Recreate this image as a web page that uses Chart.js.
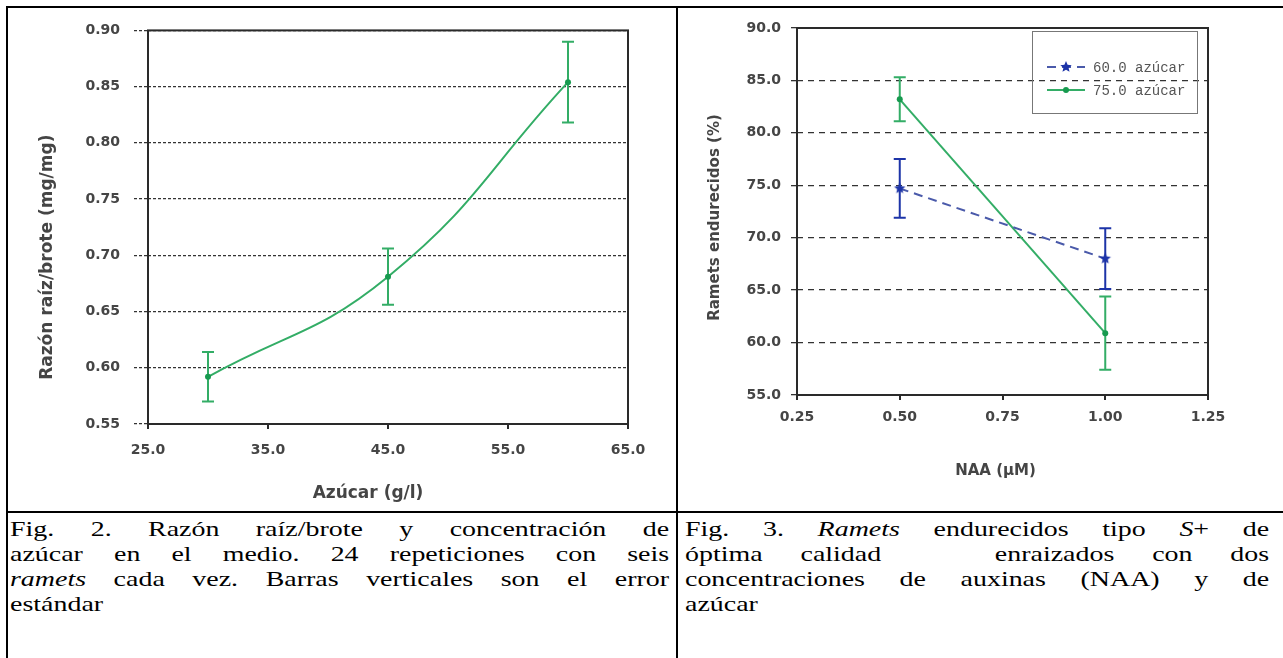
<!DOCTYPE html>
<html>
<head>
<meta charset="utf-8">
<script src="https://cdn.jsdelivr.net/npm/chart.js@4.4.0/dist/chart.umd.min.js"></script>
<style>
  body { margin: 0; background: #fff; width: 1283px; height: 658px; overflow: hidden; position: relative; }
  .rule { position: absolute; background: #000; }
  .wrap { position: absolute; top: 8px; height: 503px; }
  .cap { position: absolute; top: 516px; font-family: "Liberation Serif", "Times New Roman", serif; font-size: 22px; line-height: 25px; color: #000; transform: scaleX(1.27); transform-origin: 0 0; }
  .cap div { text-align: justify; text-align-last: justify; white-space: nowrap; }
  .cap div.last { text-align-last: left; }
</style>
</head>
<body>
<div class="rule" style="left:7px; top:6px; width:1276px; height:2px"></div>
<div class="rule" style="left:6px; top:6px; width:2px; height:652px"></div>
<div class="rule" style="left:676px; top:6px; width:2px; height:652px"></div>
<div class="rule" style="left:7px; top:511px; width:1276px; height:2px"></div>

<div class="wrap" style="left:8px; width:668px"><canvas id="fig2"></canvas></div>
<div class="wrap" style="left:678px; width:605px"><canvas id="fig3"></canvas></div>

<div class="cap" style="left:10px; width:519px">
  <div>Fig. 2. Razón raíz/brote y concentración de</div>
  <div>azúcar en el medio. 24 repeticiones con seis</div>
  <div><i>ramets</i> cada vez. Barras verticales son el error</div>
  <div class="last">estándar</div>
</div>
<div class="cap" style="left:685px; width:460px">
  <div>Fig. 3. <i>Ramets</i> endurecidos tipo <i>S</i>+ de</div>
  <div>óptima calidad &nbsp; enraizados con dos</div>
  <div>concentraciones de auxinas (NAA) y de</div>
  <div class="last">azúcar</div>
</div>

<script>
// Fig. 2
const azucar = [30, 45, 60];
const razon = [0.592, 0.681, 0.854];
const razonErr = [0.022, 0.025, 0.036];
const azucarTicks = [25, 35, 45, 55, 65];
const razonTicks = [0.55, 0.60, 0.65, 0.70, 0.75, 0.80, 0.85, 0.90];

// Fig. 3
const naa = [0.5, 1.0];
const ramets60 = [74.7, 68.0];
const err60 = [2.8, 2.9];
const ramets75 = [83.2, 60.9];
const err75 = [2.1, 3.5];
const naaTicks = [0.25, 0.50, 0.75, 1.00, 1.25];
const rametsTicks = [55, 60, 65, 70, 75, 80, 85, 90];
const seriesLabels = ['60.0 azúcar', '75.0 azúcar'];

const GREEN = '#33ad66';
const GREEN_DARK = '#179a4f';
const BLUE = '#1d34a8';
const BLUE_LINE = '#4a5aaa';
const TEXT = '#454545';
const tickFont = { family: 'DejaVu Sans', size: 14, weight: 'bold' };

function starImage(color, r) {
  const c = document.createElement('canvas');
  c.width = c.height = r * 2 + 2;
  const g = c.getContext('2d');
  g.fillStyle = color;
  g.beginPath();
  for (let i = 0; i < 10; i++) {
    const a = -Math.PI / 2 + i * Math.PI / 5;
    const rr = i % 2 ? r * 0.45 : r;
    g.lineTo(r + 1 + rr * Math.cos(a), r + 1 + rr * Math.sin(a));
  }
  g.closePath();
  g.fill();
  return c;
}
const star = starImage(BLUE, 6);

const toPoints = (xs, ys) => xs.map((x, i) => ({ x: x, y: ys[i] }));

// error bars, drawn from the y scale
const errorBars = {
  id: 'errorBars',
  beforeDatasetsDraw(chart) {
    const ctx = chart.ctx, y = chart.scales.y;
    chart.data.datasets.forEach((ds, i) => {
      if (!ds.errors) return;
      const meta = chart.getDatasetMeta(i);
      ctx.save();
      ctx.strokeStyle = ds.errorColor;
      ctx.lineWidth = 2;
      meta.data.forEach((pt, j) => {
        const v = ds.data[j].y, e = ds.errors[j];
        const top = y.getPixelForValue(v + e), bot = y.getPixelForValue(v - e);
        ctx.beginPath();
        ctx.moveTo(pt.x, top); ctx.lineTo(pt.x, bot);
        ctx.moveTo(pt.x - 6, top); ctx.lineTo(pt.x + 6, top);
        ctx.moveTo(pt.x - 6, bot); ctx.lineTo(pt.x + 6, bot);
        ctx.stroke();
      });
      ctx.restore();
    });
  }
};

// box round the plot area
const frame = {
  id: 'frame',
  beforeDatasetsDraw(chart) {
    const { ctx, chartArea: a } = chart;
    ctx.save();
    ctx.strokeStyle = '#2a2a2a';
    ctx.lineWidth = 2;
    ctx.strokeRect(a.left, a.top, a.right - a.left, a.bottom - a.top);
    ctx.restore();
  }
};

const axisTitles = {
  id: 'axisTitles',
  afterDraw(chart, args, opts) {
    const { ctx, chartArea: a } = chart;
    ctx.save();
    ctx.fillStyle = TEXT;
    ctx.font = opts.font;
    ctx.textAlign = 'center';
    ctx.textBaseline = 'middle';
    ctx.fillText(opts.x.text, (a.left + a.right) / 2 + opts.x.dx, a.bottom + opts.x.dy);
    ctx.translate(a.left + opts.y.dx, (a.top + a.bottom) / 2 + opts.y.dy);
    ctx.rotate(-Math.PI / 2);
    ctx.fillText(opts.y.text, 0, 0);
    ctx.restore();
  }
};

const boxLegend = {
  id: 'boxLegend',
  afterDraw(chart, args, opts) {
    if (!opts.show) return;
    const { ctx, chartArea: a } = chart;
    const left = a.right - 176, top = a.top + 3;
    ctx.save();
    ctx.strokeStyle = '#777';
    ctx.lineWidth = 1;
    ctx.strokeRect(left + 0.5, top + 0.5, 165, 82);
    chart.data.datasets.forEach((ds, i) => {
      const y = top + 36 + i * 23;
      ctx.strokeStyle = ds.borderColor;
      ctx.lineWidth = 2;
      ctx.setLineDash(ds.borderDash || []);
      ctx.beginPath();
      ctx.moveTo(left + 15, y); ctx.lineTo(left + 53, y);
      ctx.stroke();
      ctx.setLineDash([]);
      if (ds.pointStyle === 'circle') {
        ctx.fillStyle = ds.pointBackgroundColor;
        ctx.beginPath(); ctx.arc(left + 34, y, 3, 0, Math.PI * 2); ctx.fill();
      } else {
        ctx.drawImage(ds.pointStyle, left + 34 - ds.pointStyle.width / 2, y - ds.pointStyle.height / 2);
      }
      ctx.fillStyle = '#555';
      ctx.font = '14px "Liberation Mono"';
      ctx.textBaseline = 'middle';
      ctx.fillText(ds.label, left + 61, y + 1);
    });
    ctx.restore();
  }
};

function valueScale(ticks, digits, width, tickLen, pad, dash) {
  return {
    type: 'linear',
    min: ticks[0],
    max: ticks[ticks.length - 1],
    afterBuildTicks: s => { s.ticks = ticks.map(v => ({ value: v })); },
    afterFit: s => { s.width = width; },
    border: { display: false, dash: dash },
    grid: { color: '#333', lineWidth: 1.3, tickBorderDash: dash, tickLength: tickLen, tickColor: '#333' },
    ticks: { font: tickFont, color: TEXT, padding: pad, callback: v => v.toFixed(digits) }
  };
}

function categoryScale(ticks, digits, height, pad) {
  return {
    type: 'linear',
    min: ticks[0],
    max: ticks[ticks.length - 1],
    afterBuildTicks: s => { s.ticks = ticks.map(v => ({ value: v })); },
    afterFit: s => { s.height = height; },
    border: { display: false },
    grid: { drawOnChartArea: false, tickLength: 5, tickColor: '#2a2a2a', lineWidth: 2 },
    ticks: { font: tickFont, color: TEXT, padding: pad, maxRotation: 0, callback: v => v.toFixed(digits) }
  };
}

new Chart(document.getElementById('fig2'), {
  type: 'line',
  data: {
    datasets: [{
      label: 'Razón raíz/brote',
      data: toPoints(azucar, razon),
      errors: razonErr,
      errorColor: GREEN,
      borderColor: GREEN,
      borderWidth: 2,
      tension: 0.45,
      pointStyle: 'circle',
      pointRadius: 3,
      pointBackgroundColor: GREEN_DARK,
      pointBorderWidth: 0
    }]
  },
  options: {
    responsive: true,
    maintainAspectRatio: false,
    animation: false,
    layout: { padding: { left: 0, top: 21, right: 48, bottom: 0 } },
    scales: {
      x: categoryScale(azucarTicks, 1, 87, 13),
      y: valueScale(razonTicks, 2, 140, 14, 14, [3, 2])
    },
    plugins: {
      legend: { display: false },
      tooltip: { enabled: false },
      axisTitles: {
        font: 'bold 17px "DejaVu Sans"',
        x: { text: 'Azúcar (g/l)', dx: -20, dy: 70 },
        y: { text: 'Razón raíz/brote (mg/mg)', dx: -100, dy: 30 }
      },
      boxLegend: { show: false }
    }
  },
  plugins: [frame, errorBars, axisTitles, boxLegend]
});

new Chart(document.getElementById('fig3'), {
  type: 'line',
  data: {
    datasets: [{
      label: seriesLabels[0],
      data: toPoints(naa, ramets60),
      errors: err60,
      errorColor: BLUE,
      borderColor: BLUE_LINE,
      borderWidth: 2,
      borderDash: [9, 6],
      pointStyle: star,
      pointRadius: 6
    }, {
      label: seriesLabels[1],
      data: toPoints(naa, ramets75),
      errors: err75,
      errorColor: GREEN,
      borderColor: GREEN,
      borderWidth: 2,
      pointStyle: 'circle',
      pointRadius: 3,
      pointBackgroundColor: GREEN_DARK,
      pointBorderWidth: 0
    }]
  },
  options: {
    responsive: true,
    maintainAspectRatio: false,
    animation: false,
    layout: { padding: { left: 0, top: 20, right: 75, bottom: 0 } },
    scales: {
      x: categoryScale(naaTicks, 2, 116, 9),
      y: valueScale(rametsTicks, 1, 119, 6, 10, [6, 5])
    },
    plugins: {
      legend: { display: false },
      tooltip: { enabled: false },
      axisTitles: {
        font: 'bold 15px "DejaVu Sans"',
        x: { text: 'NAA (µM)', dx: -7, dy: 76 },
        y: { text: 'Ramets endurecidos (%)', dx: -82, dy: 6 }
      },
      boxLegend: { show: true }
    }
  },
  plugins: [frame, errorBars, axisTitles, boxLegend]
});
</script>
</body>
</html>
